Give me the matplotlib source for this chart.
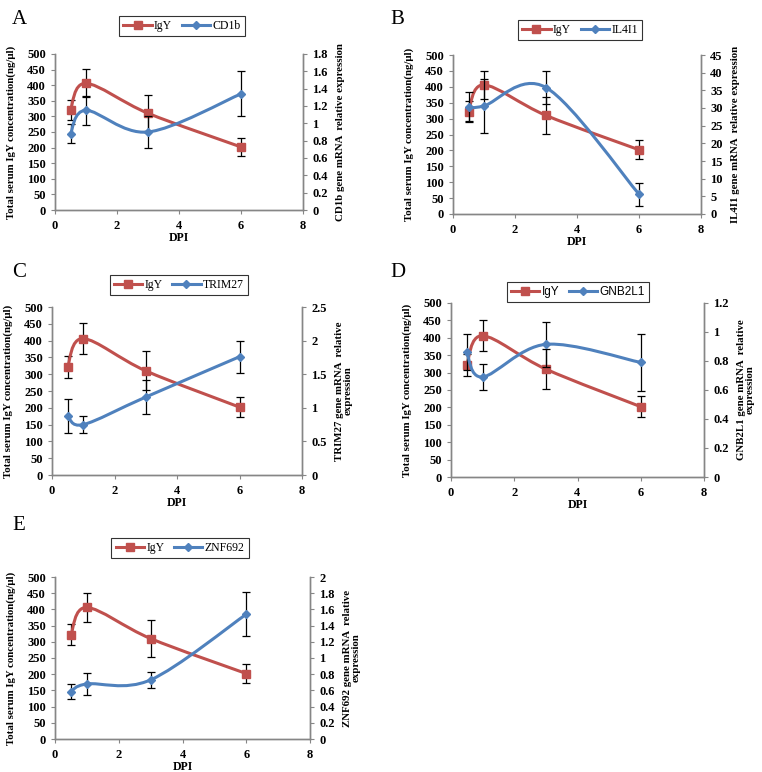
import numpy as np
import matplotlib
matplotlib.use("Agg")
import matplotlib.pyplot as plt
from matplotlib.path import Path
from matplotlib.patches import PathPatch
from matplotlib.lines import Line2D
from matplotlib.ticker import FuncFormatter, MultipleLocator

plt.rcParams['font.family'] = ['Liberation Serif', 'DejaVu Serif']

# data
dpi_days = [0.5, 1, 3, 6]
igy = [322, 406, 310, 202]
igy_err = [32, 45, 58, 30]

genes = ["CD1b", "IL4I1", "TRIM27", "GNB2L1", "ZNF692"]
gene_vals = {
    "CD1b":   [0.88, 1.15, 0.90, 1.34],
    "IL4I1":  [30.3, 30.6, 35.8, 5.6],
    "TRIM27": [0.88, 0.75, 1.16, 1.76],
    "GNB2L1": [0.86, 0.69, 0.915, 0.79],
    "ZNF692": [0.585, 0.68, 0.73, 1.54],
}
gene_err = {
    "CD1b":   [0.11, 0.17, 0.19, 0.26],
    "IL4I1":  [4.1, 7.6, 4.6, 3.2],
    "TRIM27": [0.25, 0.125, 0.25, 0.24],
    "GNB2L1": [0.125, 0.09, 0.156, 0.196],
    "ZNF692": [0.09, 0.14, 0.10, 0.27],
}
right_max = {"CD1b": 1.8, "IL4I1": 45, "TRIM27": 2.5, "GNB2L1": 1.2, "ZNF692": 2}
right_step = {"CD1b": 0.2, "IL4I1": 5, "TRIM27": 0.5, "GNB2L1": 0.2, "ZNF692": 0.2}
right_label = {
    "CD1b": "CD1b gene mRNA  relative expression",
    "IL4I1": "IL4I1 gene mRNA  relative expression",
    "TRIM27": "TRIM27 gene mRNA  relative\nexpression",
    "GNB2L1": "GNB2L1 gene mRNA  relative\nexpression",
    "ZNF692": "ZNF692 gene mRNA  relative\nexpression",
}
panel_letters = ["A", "B", "C", "D", "E"]

W, H = 762, 772
# pixel boxes: left, right, top, bottom
boxes = [(55, 303, 54, 210), (453, 701, 55, 214), (52, 302, 307, 475),
         (451, 704, 303, 477), (55, 310, 577, 739)]
letter_pos = [(12, 20), (390, 20), (12, 273), (390, 273), (12, 526)]
legend_pos = [(182, 26), (580, 30), (179, 285), (578, 292), (180, 548)]

RED = "#C0504D"
BLUE = "#4F81BD"
GREY = "#868686"

fig = plt.figure(figsize=(W / 100, H / 100), dpi=100)


def smooth_path(x, y):
    pts = np.column_stack([x, y]).astype(float)
    n = len(pts)
    verts = [pts[0]]
    codes = [Path.MOVETO]
    for i in range(n - 1):
        p0 = pts[i - 1] if i > 0 else pts[i]
        p1 = pts[i]
        p2 = pts[i + 1]
        p3 = pts[i + 2] if i + 2 < n else pts[i + 1]
        verts += [p1 + (p2 - p0) / 6, p2 - (p3 - p1) / 6, p2]
        codes += [Path.CURVE4] * 3
    return Path(verts, codes)


fmt = FuncFormatter(lambda v, p: "%g" % round(v, 3))
SQ, DM = 5.2, 3.6

for k, g in enumerate(genes):
    l, r, t, b = boxes[k]
    ax = fig.add_axes([l / W, 1 - b / H, (r - l) / W, (b - t) / H])
    ax2 = ax.twinx()

    # IgY on primary axis
    ax.errorbar(dpi_days, igy, yerr=igy_err, fmt="none", ecolor="black",
                elinewidth=0.9, capsize=3, capthick=0.9, zorder=2)
    ax.add_patch(PathPatch(smooth_path(dpi_days, igy), fill=False, ec=RED, lw=2.2, zorder=3))
    ax.plot(dpi_days, igy, ls="none", marker="s", ms=SQ, color=RED, zorder=4)

    # gene on secondary axis
    gv = gene_vals[g]
    ax2.errorbar(dpi_days, gv, yerr=gene_err[g], fmt="none", ecolor="black",
                 elinewidth=0.9, capsize=3, capthick=0.9, zorder=2)
    ax2.add_patch(PathPatch(smooth_path(dpi_days, gv), fill=False, ec=BLUE, lw=2.2, zorder=3))
    ax2.plot(dpi_days, gv, ls="none", marker="D", ms=DM, color=BLUE, zorder=4)

    ax.set_xlim(0, 8)
    ax.set_ylim(0, 500)
    ax.xaxis.set_major_locator(MultipleLocator(2))
    ax.yaxis.set_major_locator(MultipleLocator(50))
    ax2.set_ylim(0, right_max[g])
    ax2.yaxis.set_major_locator(MultipleLocator(right_step[g]))
    ax2.yaxis.set_major_formatter(fmt)

    for a in (ax, ax2):
        a.spines["top"].set_visible(False)
        for s in ("left", "right", "bottom"):
            a.spines[s].set_color(GREY)
            a.spines[s].set_linewidth(1.0)
        a.tick_params(colors=GREY, length=3, width=0.8, labelcolor="black", labelsize=9)
        for lab in a.get_xticklabels() + a.get_yticklabels():
            lab.set_fontweight("bold")
    ax.tick_params(axis="x", pad=4)

    ax.set_xlabel("DPI", fontsize=8.5, fontweight="bold", labelpad=0)
    ax.set_ylabel("Total serum IgY concentration(ng/\u03bcl)", fontsize=7.8,
                  fontweight="bold", labelpad=8)
    ax2.set_ylabel(right_label[g], fontsize=7.8, fontweight="bold", labelpad=6,
                   linespacing=0.95)

    lx, ly = letter_pos[k]
    fig.text(lx / W, 1 - ly / H, panel_letters[k], fontsize=15, va="center", ha="left")

    handles = [Line2D([], [], color=RED, lw=2.2, marker="s", ms=SQ),
               Line2D([], [], color=BLUE, lw=2.2, marker="D", ms=DM)]
    lfont = {"size": 8.5}
    if g == "GNB2L1":
        lfont = {"size": 8.5, "family": "Liberation Sans"}
    cx, cy = legend_pos[k]
    leg = ax2.legend(handles, ["IgY", g], ncol=2, loc="center",
                     bbox_to_anchor=(cx / W, 1 - cy / H), bbox_transform=fig.transFigure,
                     prop=lfont, frameon=True, fancybox=False, handlelength=2.4,
                     handletextpad=0.2, columnspacing=0.8, borderpad=0.35)
    leg.get_frame().set_edgecolor("black")
    leg.get_frame().set_linewidth(0.8)

fig.savefig("out.png", dpi=100)
